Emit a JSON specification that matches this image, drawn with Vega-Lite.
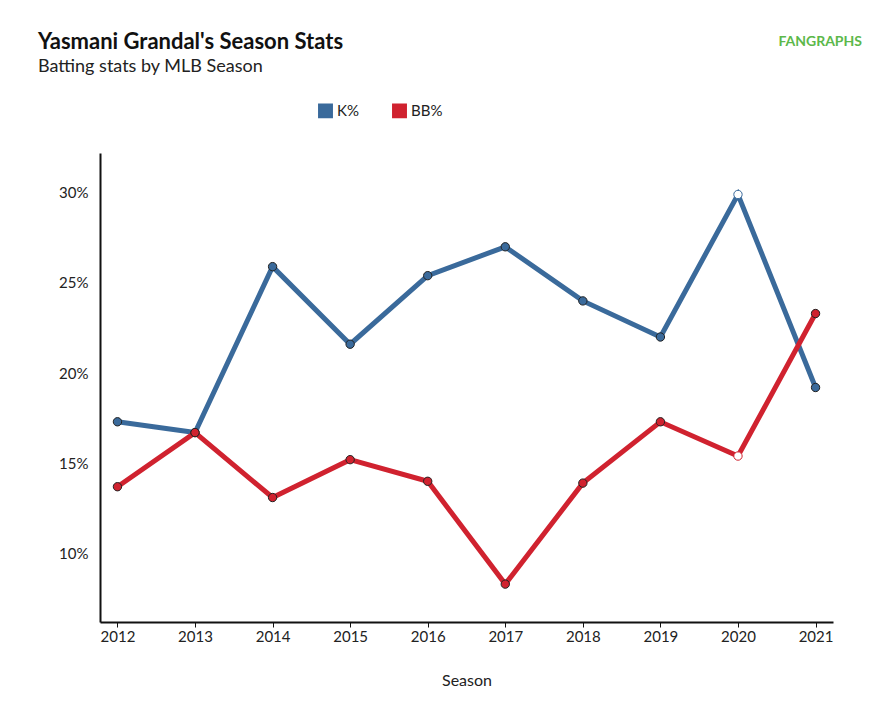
{
  "$schema": "https://vega.github.io/schema/vega-lite/v6.json",
  "autosize": "none",
  "width": 733,
  "height": 469,
  "padding": {"left": 100, "top": 153, "right": 59, "bottom": 96},
  "background": "white",
  "config": {"font": "Lato", "view": {"stroke": null}},
  "title": {
    "text": "Yasmani Grandal's Season Stats",
    "subtitle": "Batting stats by MLB Season",
    "anchor": "start", "frame": "group", "dx": -62, "offset": -42,
    "fontSize": 22, "fontWeight": "bold", "color": "#111",
    "subtitleFontSize": 18, "subtitleColor": "#222", "subtitlePadding": 4
  },
  "data": {"values": [
    {"Season": "2012", "stat": "K%", "v": 17.3, "short": false},
    {"Season": "2013", "stat": "K%", "v": 16.7, "short": false},
    {"Season": "2014", "stat": "K%", "v": 25.9, "short": false},
    {"Season": "2015", "stat": "K%", "v": 21.6, "short": false},
    {"Season": "2016", "stat": "K%", "v": 25.4, "short": false},
    {"Season": "2017", "stat": "K%", "v": 27.0, "short": false},
    {"Season": "2018", "stat": "K%", "v": 24.0, "short": false},
    {"Season": "2019", "stat": "K%", "v": 22.0, "short": false},
    {"Season": "2020", "stat": "K%", "v": 29.9, "short": true},
    {"Season": "2021", "stat": "K%", "v": 19.2, "short": false},
    {"Season": "2012", "stat": "BB%", "v": 13.7, "short": false},
    {"Season": "2013", "stat": "BB%", "v": 16.7, "short": false},
    {"Season": "2014", "stat": "BB%", "v": 13.1, "short": false},
    {"Season": "2015", "stat": "BB%", "v": 15.2, "short": false},
    {"Season": "2016", "stat": "BB%", "v": 14.0, "short": false},
    {"Season": "2017", "stat": "BB%", "v": 8.3, "short": false},
    {"Season": "2018", "stat": "BB%", "v": 13.9, "short": false},
    {"Season": "2019", "stat": "BB%", "v": 17.3, "short": false},
    {"Season": "2020", "stat": "BB%", "v": 15.4, "short": true},
    {"Season": "2021", "stat": "BB%", "v": 23.3, "short": false}
  ]},
  "encoding": {
    "x": {"field": "Season", "type": "ordinal", "scale": {"type": "point", "padding": 0.225},
      "axis": {"labelAngle": 0, "labelFontSize": 15, "labelColor": "#222", "titleFontSize": 16, "titleFontWeight": "normal", "titleColor": "#222", "titlePadding": 28, "domainColor": "#111", "domainWidth": 2, "tickColor": "#111", "tickSize": 5, "grid": false}},
    "y": {"field": "v", "type": "quantitative", "scale": {"domain": [6.2, 32.2], "nice": false, "zero": false},
      "axis": {"values": [10, 15, 20, 25, 30], "labelExpr": "datum.value + '%'", "title": null, "labelFontSize": 15, "labelColor": "#222", "labelPadding": 12, "domainColor": "#111", "domainWidth": 2, "ticks": false, "grid": false}},
    "color": {"field": "stat", "type": "nominal", "scale": {"domain": ["K%", "BB%"], "range": ["#3a6a9b", "#d0222f"]},
      "legend": {"orient": "none", "legendX": 218, "legendY": -50, "direction": "horizontal", "title": null, "symbolType": "square", "symbolSize": 180, "labelFontSize": 15, "labelColor": "#222", "columnPadding": 30}}
  },
  "layer": [
    {"mark": {"type": "line", "strokeWidth": 5}, "encoding": {"detail": {"field": "stat"}}},
    {"mark": {"type": "point", "filled": true, "size": 70, "strokeWidth": 1, "opacity": 1},
      "encoding": {"fill": {"condition": {"test": "datum.short", "value": "white"}, "field": "stat", "type": "nominal", "scale": {"domain": ["K%", "BB%"], "range": ["#3a6a9b", "#d0222f"]}, "legend": null},
        "stroke": {"condition": {"test": "datum.short", "field": "stat", "type": "nominal", "scale": {"domain": ["K%", "BB%"], "range": ["#3a6a9b", "#d0222f"]}, "legend": null}, "value": "#222"}}},
    {"data": {"values": [{"t": "FANGRAPHS"}]}, "mark": {"type": "text", "fontSize": 14, "fontWeight": "bold", "color": "#5cb84a", "align": "right", "baseline": "middle", "x": 762, "y": -111},
      "encoding": {"text": {"field": "t"}, "x": null, "y": null, "color": null}}
  ]
}
